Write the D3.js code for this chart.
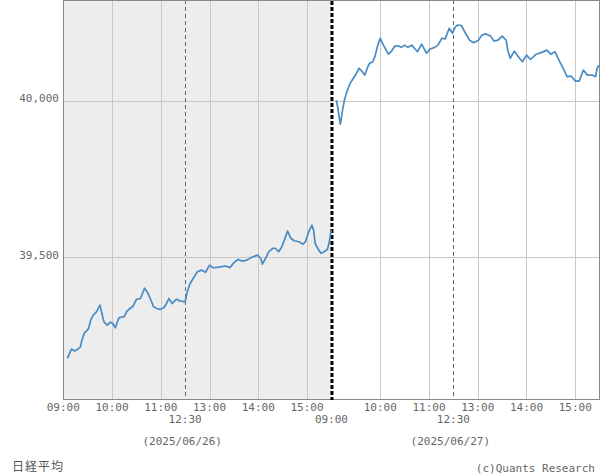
<!DOCTYPE html>
<html><head><meta charset="utf-8">
<script src="https://cdn.jsdelivr.net/npm/d3@7"></script>
<style>body{margin:0;background:#fff}svg{display:block}</style>
</head><body><svg id="c" width="600" height="475"></svg>
<script>
// ---- data ----
const dates = ["2025/06/26", "2025/06/27"];
const day1Times = ["09:05","09:10","09:14","09:19","09:21","09:23","09:26","09:29","09:31","09:34","09:37","09:41","09:45","09:47","09:50","09:54","09:58","10:01","10:04","10:08","10:10","10:15","10:18","10:22","10:26","10:30","10:35","10:40","10:44","10:47","10:51","10:55","10:59","11:04","11:07","11:10","11:14","11:18","11:20","11:23","11:26","11:30","12:30","12:32","12:36","12:40","12:45","12:50","12:55","13:00","13:04","13:09","13:15","13:20","13:25","13:30","13:35","13:40","13:46","13:52","13:59","14:03","14:05","14:09","14:13","14:18","14:21","14:25","14:29","14:32","14:36","14:40","14:44","14:50","14:55","14:58","15:02","15:06","15:08","15:10","15:13","15:17","15:21","15:25","15:27","15:29","15:30"];
const day1Values = [39175,39205,39199,39207,39211,39234,39257,39264,39271,39300,39314,39325,39346,39325,39292,39282,39291,39287,39273,39303,39307,39309,39325,39335,39343,39364,39367,39400,39385,39367,39341,39335,39332,39338,39351,39367,39351,39362,39365,39359,39359,39355,39358,39383,39415,39432,39453,39458,39451,39474,39466,39467,39469,39471,39466,39482,39492,39487,39490,39499,39506,39496,39477,39496,39517,39528,39528,39517,39533,39554,39583,39560,39552,39549,39541,39549,39581,39602,39586,39544,39528,39512,39517,39524,39544,39576,39586];
const day2Times = ["09:06","09:08","09:10","09:11","09:14","09:16","09:19","09:23","09:27","09:30","09:34","09:38","09:41","09:44","09:47","09:51","09:54","09:57","10:00","10:04","10:10","10:14","10:18","10:22","10:26","10:30","10:34","10:39","10:42","10:46","10:51","10:57","11:01","11:07","11:11","11:16","11:20","11:25","11:29","12:32","12:35","12:40","12:45","12:50","12:55","13:01","13:05","13:10","13:16","13:20","13:25","13:30","13:35","13:37","13:40","13:45","13:50","13:55","14:00","14:05","14:12","14:18","14:25","14:30","14:35","14:40","14:45","14:50","14:55","15:00","15:05","15:10","15:15","15:21","15:25","15:27","15:29"];
const day2Values = [40003,39976,39939,39926,39976,40003,40030,40057,40073,40085,40105,40094,40083,40105,40121,40126,40147,40179,40201,40179,40150,40160,40176,40177,40172,40179,40172,40179,40169,40158,40182,40153,40166,40172,40179,40201,40199,40233,40217,40236,40243,40242,40217,40195,40187,40195,40211,40215,40208,40192,40195,40208,40195,40163,40137,40160,40142,40126,40147,40133,40150,40155,40163,40150,40158,40131,40105,40078,40080,40064,40064,40099,40083,40083,40078,40105,40115];
const hourTicks = ["10:00","11:00","13:00","14:00","15:00"];
const openTick = "09:00";
const lunchTick = "12:30";
const yTicks = [39500, 40000];
const seriesName = "日経平均";
const credit = "(c)Quants Research";

// ---- helpers ----
const SESSION = 330; // minutes per trading day (lunch removed)
function sessionMin(t) {
  const [h, m] = t.split(":").map(Number);
  const mm = h * 60 + m;
  return mm <= 690 ? mm - 540 : mm - 750 + 150;
}

const svg = d3.select("#c");
const L = 63.3, R = 599.6, T = 0, B = 400;
const x = d3.scaleLinear().domain([0, SESSION * 2]).range([L, R]);
const y = d3.scaleLinear().domain([39041.7, 40323.7]).range([B, T]);
const px = v => Math.round(v) + 0.5;

// shaded previous day
svg.append("rect").attr("x", px(L)).attr("y", 0)
  .attr("width", x(SESSION) - px(L)).attr("height", B)
  .attr("fill", "#ededed");

// vertical grid
const grid = svg.append("g").attr("stroke", "#c8c8c8").attr("stroke-width", 1);
[0, 1].forEach(d => {
  hourTicks.forEach(t => {
    const xv = px(x(d * SESSION + sessionMin(t)));
    grid.append("line").attr("x1", xv).attr("x2", xv).attr("y1", 0).attr("y2", B);
  });
});
// horizontal grid
yTicks.forEach(v => {
  const yv = px(y(v));
  grid.append("line").attr("x1", px(L)).attr("x2", px(R)).attr("y1", yv).attr("y2", yv);
});

// lunch dashed lines
[0, 1].forEach(d => {
  const xv = px(x(d * SESSION + sessionMin(lunchTick)));
  svg.append("line").attr("x1", xv).attr("x2", xv).attr("y1", 0).attr("y2", B)
    .attr("stroke", "#666").attr("stroke-width", 1).attr("stroke-dasharray", "4,3");
});

// border
svg.append("rect").attr("x", px(L)).attr("y", 0.5)
  .attr("width", Math.round(R) - Math.round(L) - 1).attr("height", B - 1)
  .attr("fill", "none").attr("stroke", "#888").attr("stroke-width", 1);

// day separator
const xs = x(SESSION) + 0.5;
svg.append("line").attr("x1", xs).attr("x2", xs).attr("y1", 1).attr("y2", B)
  .attr("stroke", "#000").attr("stroke-width", 3).attr("stroke-dasharray", "4,2");

// lines
const line = d3.line().x(d => x(d[0])).y(d => y(d[1]));
const d1 = day1Times.map((t, i) => [sessionMin(t), day1Values[i]]);
const d2 = day2Times.map((t, i) => [SESSION + sessionMin(t), day2Values[i]]);
[d1, d2].forEach(data => {
  svg.append("path").datum(data).attr("d", line)
    .attr("fill", "none").attr("stroke", "#4a8bc3").attr("stroke-width", 1.7)
    .attr("stroke-linejoin", "round");
});

// text
const font = "'DejaVu Sans Mono', monospace";
const txt = svg.append("g").attr("font-family", font).attr("font-size", 11).attr("fill", "#666");
const fmt = d3.format(",");
yTicks.forEach(v => {
  txt.append("text").attr("x", 59).attr("y", y(v) + 1.5)
    .attr("text-anchor", "end").text(fmt(v));
});
[0, 1].forEach(d => {
  const off = d * SESSION;
  const row1 = d === 0 ? [openTick].concat(hourTicks) : hourTicks;
  row1.forEach(t => {
    txt.append("text").attr("x", x(off + sessionMin(t))).attr("y", 411)
      .attr("text-anchor", "middle").text(t);
  });
  const row2 = d === 1 ? [openTick, lunchTick] : [lunchTick];
  row2.forEach(t => {
    txt.append("text").attr("x", x(off + sessionMin(t))).attr("y", 423)
      .attr("text-anchor", "middle").text(t);
  });
  txt.append("text").attr("x", x(off + sessionMin(lunchTick)) - 3).attr("y", 445)
    .attr("text-anchor", "middle").text("(" + dates[d] + ")");
});
svg.append("text").attr("x", 12).attr("y", 471)
  .attr("font-family", "'Noto Sans CJK JP', sans-serif").attr("font-size", 12)
  .attr("letter-spacing", 1).attr("fill", "#555").text(seriesName);
txt.append("text").attr("x", 595).attr("y", 472).attr("text-anchor", "end").text(credit);
</script></body></html>
